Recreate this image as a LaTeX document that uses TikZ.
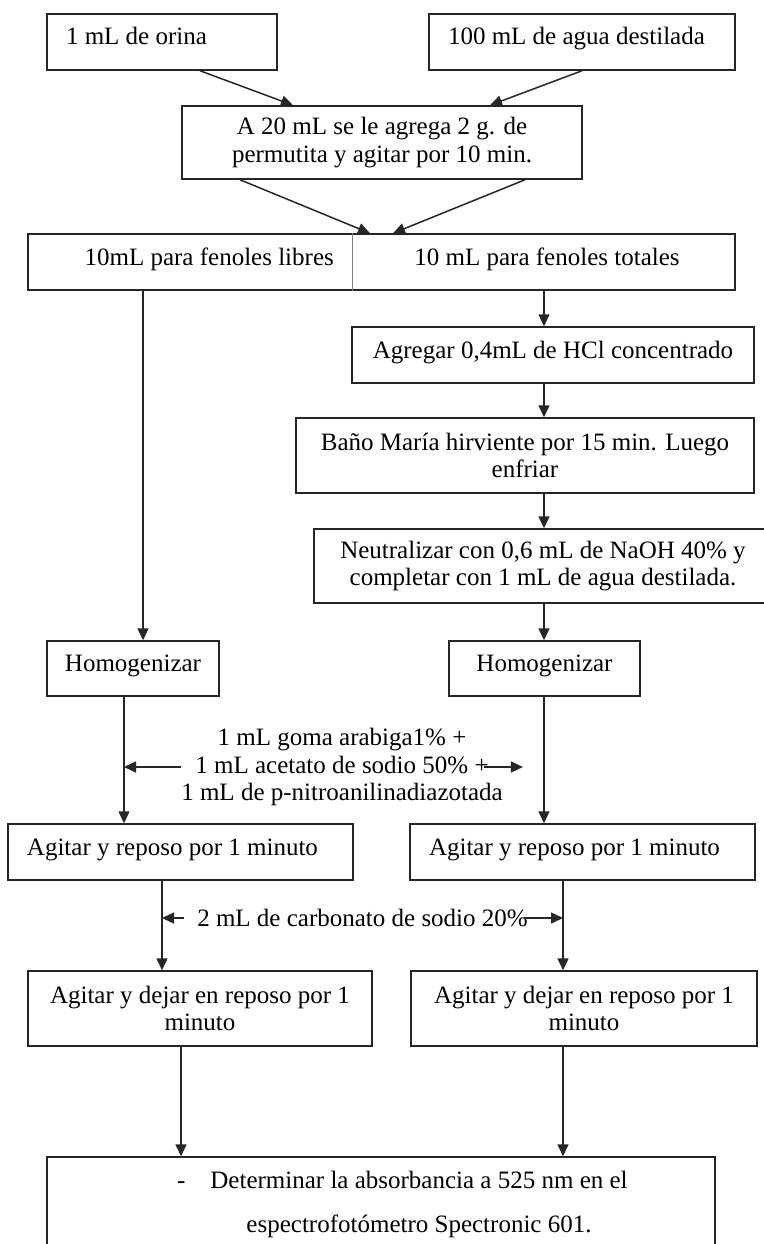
\documentclass[tikz,border=0pt]{standalone}
\usepackage{fontspec}
\setmainfont{Liberation Serif}
\usetikzlibrary{arrows.meta,calc}

\tikzset{
  box/.style={rectangle, draw=black!85, line width=1.5pt, inner sep=0pt, align=center},
  lbox/.style={box, inner xsep=19pt, align=flush left},
  oneline/.style={text height=17pt, text depth=11pt},
  flow/.style={line width=1.5pt, draw=black!85, -{Triangle[length=12pt,width=11pt]}},
}

\begin{document}
\begin{tikzpicture}[x=1pt, y=-1pt, font=\fontsize{25}{27.5}\selectfont]
    \useasboundingbox (0,0) rectangle (763,1244);

    % Columns of the vertical connectors
    \coordinate (cL1) at (143,0);
    \coordinate (cL2) at (124,0);
    \coordinate (cL3) at (162,0);
    \coordinate (cL4) at (181,0);
    \coordinate (cR1) at (544,0);
    \coordinate (cR2) at (563,0);

    % Starting samples
    \node[lbox, oneline, text width=192pt, minimum height=56pt] (orina) at (162,42) {1 mL de orina};
    \node[lbox, oneline, text width=268pt, minimum height=56pt] (agua) at (582,42) {100 mL de agua destilada};

    % Permutite step
    \node[box, minimum width=400pt, minimum height=73pt] (permutita) at (382,142.5) {
        A 20 mL se le agrega 2 g. de\\
        permutita y agitar por 10 min.
    };

    % Split into free and total phenols
    \node[box, minimum width=707pt, minimum height=56pt] (fraccion) at (381.5,262) {};
    \node[inner sep=0pt, anchor=base east] (libres) at (334,265) {10mL para fenoles libres};
    \node[inner sep=0pt, anchor=base] (totales) at (547,265) {10 mL para fenoles totales};
    \draw[gray, line width=0.8pt] ([xshift=325pt]fraccion.north west) -- ([xshift=325pt]fraccion.south west);

    % Total phenols: hydrolysis
    \node[box, oneline, minimum width=402pt, minimum height=56pt] (hcl) at (553,355) {Agregar 0,4mL de HCl concentrado};
    \node[box, minimum width=458pt, minimum height=75pt] (bano) at (525,455.5) {
        Baño María hirviente por 15 min. Luego\\
        enfriar
    };
    \node[box, minimum width=458pt, minimum height=74pt] (neutral) at (543,566) {
        Neutralizar con 0,6 mL de NaOH 40\% y\\
        completar con 1 mL de agua destilada.
    };

    % Homogenize
    \node[box, oneline, minimum width=172pt, minimum height=55pt] (homoL) at (133,668.5) {Homogenizar};
    \node[box, oneline, minimum width=191pt, minimum height=55pt] (homoR) at (544.5,668.5) {Homogenizar};

    % Reagents
    \node[inner sep=0pt, align=center] (reactivos) at (342,767) {
        1 mL goma arabiga1\% +\\
        1 mL acetato de sodio 50\% +\\
        1 mL de p-nitroanilinadiazotada
    };
    \node[lbox, oneline, text width=307pt, minimum height=56pt] (agitL) at (180.5,852) {Agitar y reposo por 1 minuto};
    \node[lbox, oneline, text width=307pt, minimum height=56pt] (agitR) at (582.5,852) {Agitar y reposo por 1 minuto};

    \node[inner sep=0pt] (carbonato) at (362.5,918) {2 mL de carbonato de sodio 20\%};
    \node[box, minimum width=344pt, minimum height=75pt] (dejarL) at (200,1008.5) {
        Agitar y dejar en reposo por 1\\
        minuto
    };
    \node[box, minimum width=346pt, minimum height=75pt] (dejarR) at (584,1008.5) {
        Agitar y dejar en reposo por 1\\
        minuto
    };

    % Reading
    \node[box, minimum width=668pt, minimum height=110pt] (final) at (381,1212) {};
    \node[inner sep=0pt, align=center] (paso) at (419,1204) {
        \llap{-\hspace{25pt}}Determinar la absorbancia a 525 nm en el\\[16.5pt]
        espectrofotómetro Spectronic 601.
    };

    % Top arrows
    \draw[flow] ([xshift=38pt]orina.south) -- ([xshift=-89pt]permutita.north);
    \draw[flow] (agua.south) -- ([xshift=108pt]permutita.north);
    \draw[flow] ([xshift=-142pt]permutita.south) -- ([xshift=-11.5pt]fraccion.north);
    \draw[flow] ([xshift=143pt]permutita.south) -- ([xshift=11.5pt]fraccion.north);

    % Left branch
    \draw[flow] (cL1 |- fraccion.south) -- (cL1 |- homoL.north);
    \draw[flow] (cL2 |- homoL.south) -- (cL2 |- agitL.north);
    \draw[flow] (cL3 |- agitL.south) -- (cL3 |- dejarL.north);
    \draw[flow] (cL4 |- dejarL.south) -- (cL4 |- final.north);

    % Right branch
    \draw[flow] (cR1 |- fraccion.south) -- (cR1 |- hcl.north);
    \draw[flow] (cR1 |- hcl.south) -- (cR1 |- bano.north);
    \draw[flow] (cR1 |- bano.south) -- (cR1 |- neutral.north);
    \draw[flow] (cR1 |- neutral.south) -- (cR1 |- homoR.north);
    \draw[flow] (cR1 |- homoR.south) -- (cR1 |- agitR.north);
    \draw[flow] (cR2 |- agitR.south) -- (cR2 |- dejarR.north);
    \draw[flow] (cR2 |- dejarR.south) -- (cR2 |- final.north);

    % Additions
    \draw[flow] (reactivos.west) -- (cL2 |- reactivos.west);
    \draw[flow] ([xshift=-19pt]reactivos.east) -- ([xshift=20pt]reactivos.east);
    \draw[flow] ([xshift=-13pt]carbonato.west) -- (cL3 |- carbonato.west);
    \draw[flow] ([xshift=-4pt]carbonato.east) -- (cR2 |- carbonato.east);

\end{tikzpicture}
\end{document}
